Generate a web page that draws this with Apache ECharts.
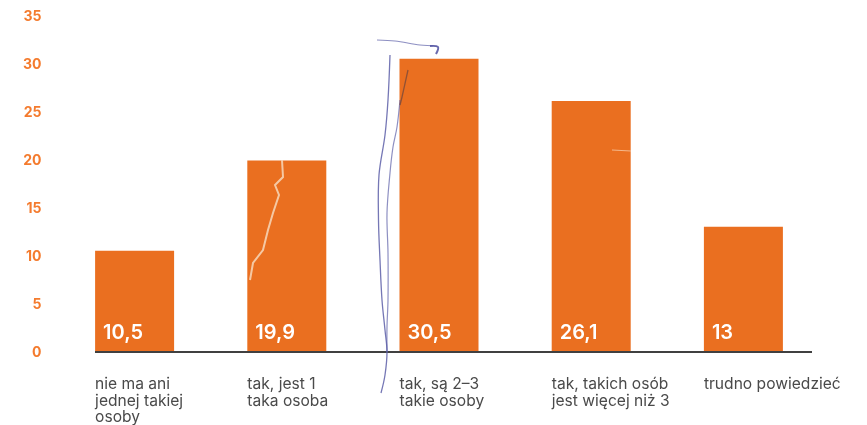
<!DOCTYPE html>
<html><head><meta charset="utf-8">
<style>html,body{margin:0;background:#fff}#c{width:867px;height:425px}</style>
<script src="https://cdn.jsdelivr.net/npm/echarts@6/dist/echarts.min.js"></script>
</head><body><div id="c"></div>
<script>
const categories = ['nie ma ani\njednej takiej\nosoby','tak, jest 1\ntaka osoba','tak, są 2–3\ntakie osoby','tak, takich osób\njest więcej niż 3','trudno powiedzieć'];
const values = [10.5,19.9,30.5,26.1,13];
const valueLabels = ['10,5','19,9','30,5','26,1','13'];
const yTicks = {min:0,max:35,interval:5};
const chart = echarts.init(document.getElementById('c'),null,{renderer:'canvas'});
const font = 'Inter, "Noto Sans", sans-serif';
const ink = '#4a4a4a', orange = '#ea6f20', pen = '#5d5fa8';
const stroke = (points,color,lineWidth,opacity,smooth=0.35)=>({type:'polyline',z:30,shape:{points,smooth},style:{stroke:color,lineWidth,fill:null,opacity}});
chart.setOption({
  animation:false,
  backgroundColor:'#fff',
  grid:{left:58.5,top:15.5,width:761,height:336,outerBoundsMode:'none'},
  xAxis:{type:'category',data:categories,
    axisLine:{show:false},axisTick:{show:false},
    axisLabel:{align:'left',padding:[0,0,0,-39.5],margin:25,color:ink,fontFamily:font,fontSize:15.6,lineHeight:16.5,interval:0}},
  yAxis:{type:'value',...yTicks,splitLine:{show:false},axisLine:{show:false},axisTick:{show:false},
    axisLabel:{color:'#f47b2e',fontFamily:font,fontWeight:700,fontSize:14,align:'right',margin:17,verticalAlign:'top',padding:[-6,0,0,0]}},
  series:[{type:'bar',data:values,barWidth:79,itemStyle:{color:orange},
    label:{show:true,position:'insideBottomLeft',distance:8,offset:[0,-1],color:'#fff',fontFamily:font,fontWeight:600,fontSize:20,
      formatter:p=>valueLabels[p.dataIndex]}}],
  graphic:[
    {type:'line',z:20,shape:{x1:95,y1:352,x2:812,y2:352},style:{stroke:'#404040',lineWidth:2}},
    stroke([[390,55],[388,100],[385,135],[379,175],[378.5,220],[380,260],[382,300],[385,330],[387,352],[385,375],[381,393]],pen,1.3,.85),
    stroke([[400,100],[397,127],[393,147],[390,173],[387,213],[388,253],[388,300],[387,327],[387,352]],pen,1.2,.7),
    stroke([[408,70],[402,97],[400,105]],'#7a4a3a',1.3,.8),
    stroke([[377,40],[395,41],[420,45],[437,46]],pen,1.1,.7),
    stroke([[430,46],[438,47],[436,54]],'#4f50a0',2,.85),
    stroke([[282,160],[283,177],[275,185],[279,195],[273,213],[268,230],[263,250],[253,263],[250,280]],'#f7d8bb',2,.85,0),
    {type:'line',z:30,shape:{x1:612,y1:150,x2:631,y2:151},style:{stroke:'#f6c9a5',lineWidth:1,opacity:.8}}
  ]
});
</script></body></html>
